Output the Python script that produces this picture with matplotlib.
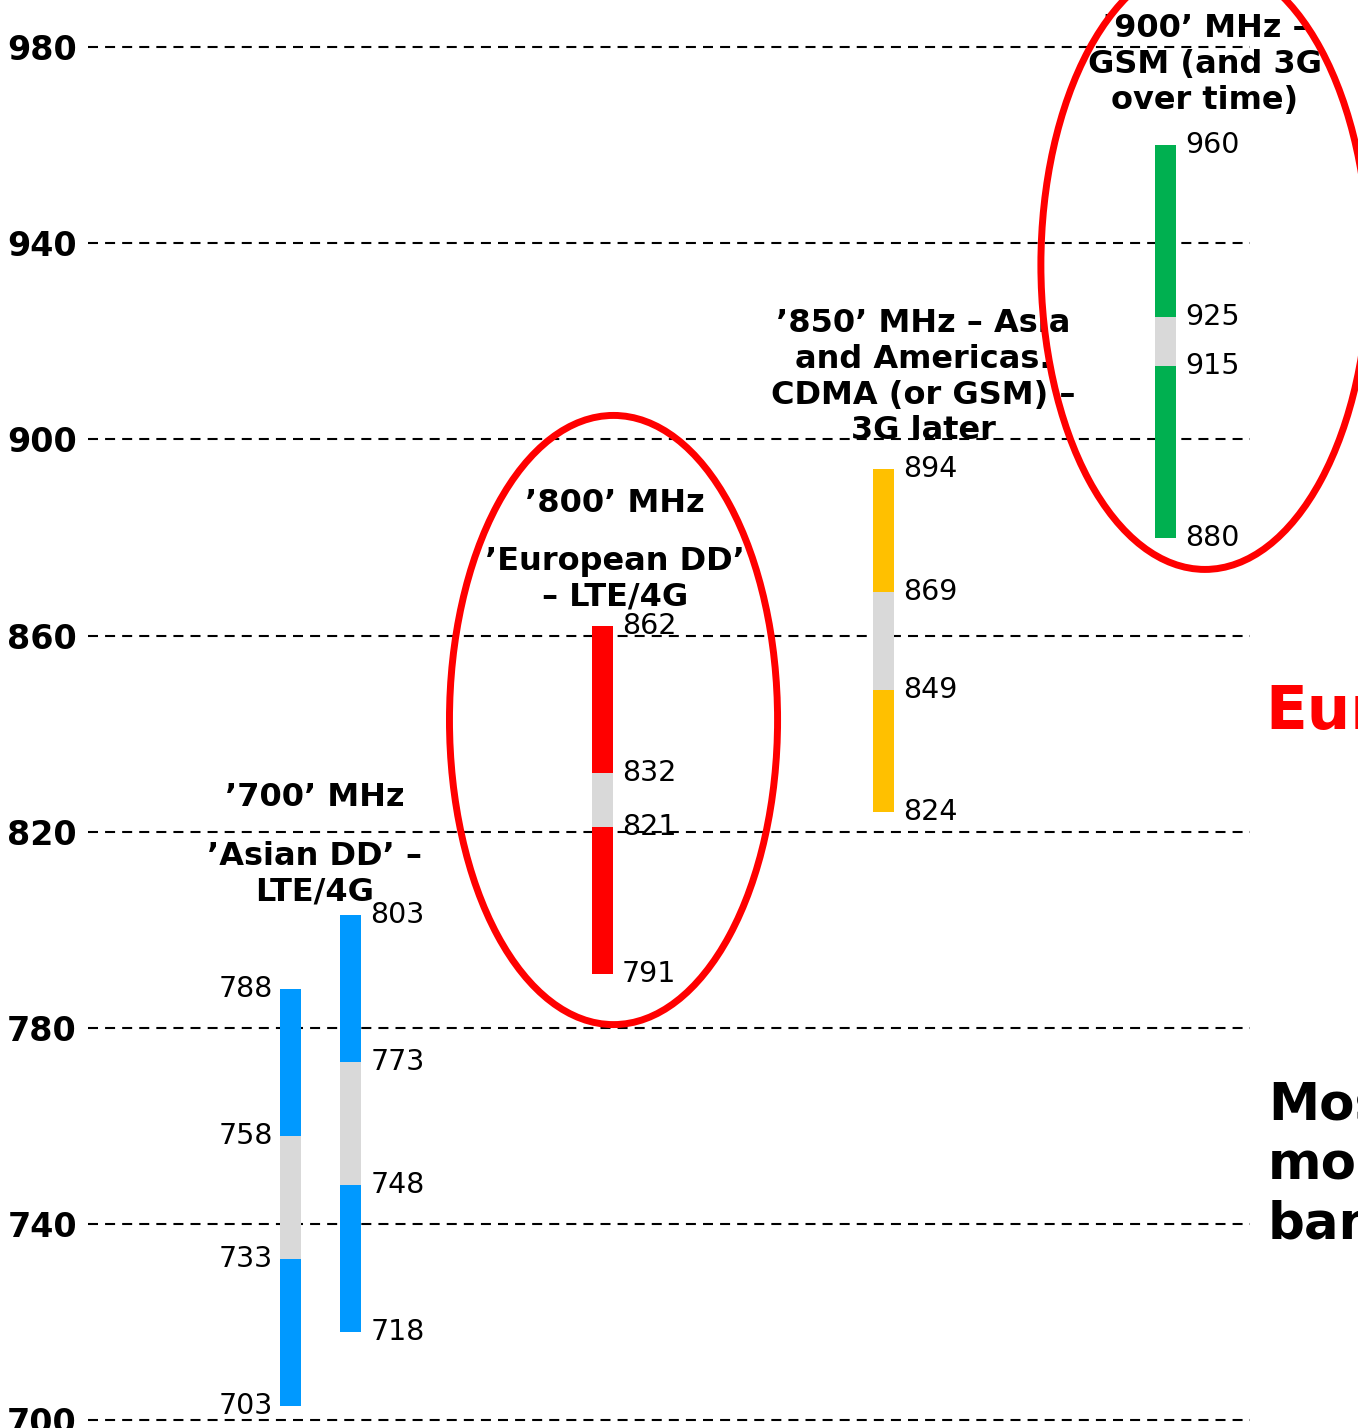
import matplotlib
matplotlib.use('Agg')
import matplotlib.pyplot as plt
from matplotlib.patches import Ellipse

# ---- data ----
bar_names = ["700 Asian DD (a)", "700 Asian DD (b)", "800 European DD", "850", "900"]
band_low = [703, 718, 791, 824, 880]
gap_low = [733, 748, 821, 849, 915]
gap_high = [758, 773, 832, 869, 925]
band_high = [788, 803, 862, 894, 960]
bar_colors = ["#0099FF", "#0099FF", "#FF0000", "#FFC000", "#00B050"]
gap_color = "#D9D9D9"
bar_group = [0, 0, 1, 2, 3]
label_side = ["left", "right", "right", "right", "right"]

group_heads = ["’700’ MHz", "’800’ MHz", "", ""]
group_bodies = ["’Asian DD’ –\nLTE/4G",
                "’European DD’\n– LTE/4G",
                "’850’ MHz – Asia\nand Americas.\nCDMA (or GSM) –\n3G later",
                "’900’ MHz –\nGSM (and 3G\nover time)"]
y_ticks = [700, 740, 780, 820, 860, 900, 940, 980]
side_text_red = "Europe"
side_text_black = "Most\nmobile\nbands"

# ---- layout ----
W, H, DPI = 1358, 1428, 100
fig = plt.figure(figsize=(W / DPI, H / DPI), dpi=DPI)
ax = fig.add_axes([88 / W, 0, (1250 - 88) / W, 1])
ax.set_xlim(-0.826, 3.300)
ax.set_ylim(698.45, 989.6)
for s in ax.spines.values():
    s.set_visible(False)
ax.set_xticks([])
ax.set_yticks(y_ticks)
ax.set_yticklabels([str(t) for t in y_ticks], fontsize=24, fontweight='bold')
ax.tick_params(axis='y', length=0, pad=8)
ax.grid(axis='y', color='black', linestyle=(0, (4.8, 3.4)), linewidth=1.5)
ax.set_axisbelow(True)

bw = 0.075
pair_off = 0.107
for i in range(len(band_low)):
    g = bar_group[i]
    members = [j for j in range(len(bar_group)) if bar_group[j] == g]
    if len(members) > 1:
        x = g + (-pair_off if members.index(i) == 0 else pair_off)
    else:
        x = g
    ax.bar(x, gap_low[i] - band_low[i], bottom=band_low[i], width=bw, color=bar_colors[i], zorder=3)
    ax.bar(x, gap_high[i] - gap_low[i], bottom=gap_low[i], width=bw, color=gap_color, zorder=3)
    ax.bar(x, band_high[i] - gap_high[i], bottom=gap_high[i], width=bw, color=bar_colors[i], zorder=3)
    for v in (band_low[i], gap_low[i], gap_high[i], band_high[i]):
        if label_side[i] == "left":
            ax.annotate(str(v), (x - bw / 2, v), xytext=(-5, 0), textcoords='offset points',
                        ha='right', va='center', fontsize=20.5, zorder=5)
        else:
            ax.annotate(str(v), (x + bw / 2, v), xytext=(6.5, 0), textcoords='offset points',
                        ha='left', va='center', fontsize=20.5, zorder=5)

# group titles
head_y = [827.1, 887.0]
body_y = [811.4, 871.5, 912.7, 976.5]
head_dx = [-0.02, 0.045]
body_dx = [-0.02, 0.045, 0.14, 0.14]
for g in range(4):
    if group_heads[g]:
        ax.text(g + head_dx[g], head_y[g], group_heads[g], ha='center', va='center', fontsize=23,
                fontweight='bold', zorder=6)
    ax.text(g + body_dx[g], body_y[g], group_bodies[g], ha='center', va='center', fontsize=23,
            fontweight='bold', linespacing=1.2, zorder=6)

# red ellipses
for g, dx, yc in ((1, 0.04, 842.8), (3, 0.14, 935.6)):
    e = Ellipse((g + dx, yc), width=1.165, height=124.2, fill=False, edgecolor='#FF0000',
                linewidth=5, zorder=7, clip_on=False)
    ax.add_patch(e)

ax.text(1.013, 844.4, side_text_red, transform=ax.get_yaxis_transform(), ha='left', va='center',
        fontsize=44, fontweight='bold', color='#FF0000', clip_on=False)
ax.text(1.0155, 752.1, side_text_black, transform=ax.get_yaxis_transform(), ha='left', va='center',
        fontsize=37, fontweight='bold', color='black', linespacing=1.25, clip_on=False)

fig.savefig('out.png', dpi=DPI)
